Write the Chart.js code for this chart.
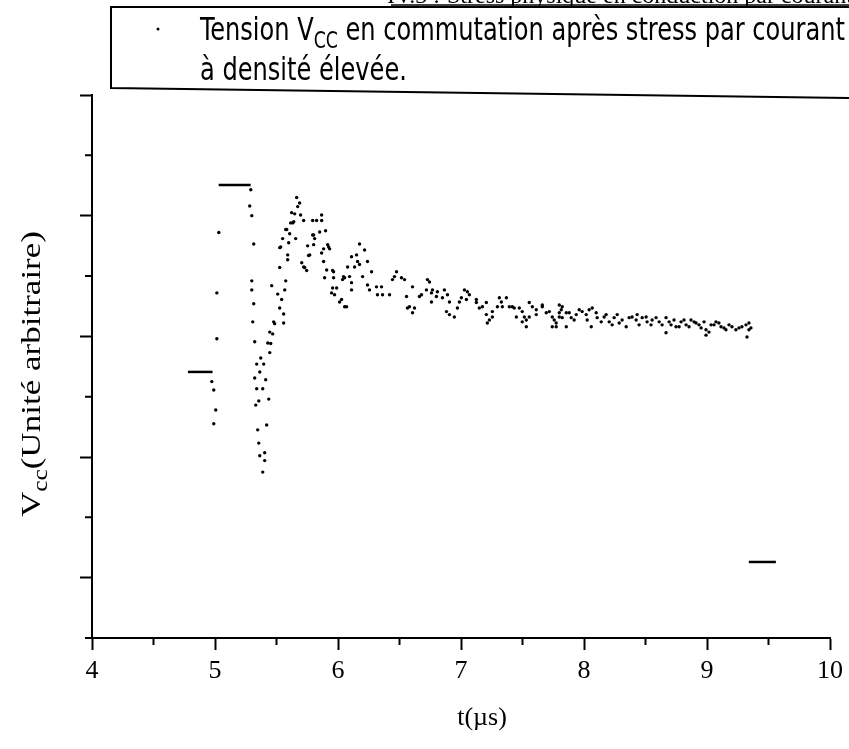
<!DOCTYPE html>
<html>
<head>
<meta charset="utf-8">
<script src="https://cdn.jsdelivr.net/npm/chart.js@4.4.1/dist/chart.umd.min.js"></script>
<style>
    html, body { margin: 0; padding: 0; background: #fff; }
    #wrap { width: 849px; height: 749px; }
</style>
</head>
<body>
<div id="wrap"><canvas id="vccChart" width="849" height="749"></canvas></div>
<script>
// Scope samples: t in µs, Vcc in arbitrary units
const tSamples = [
    4.974, 4.990, 4.990, 5.006, 5.015, 5.015, 5.031,
    5.282, 5.291, 5.299, 5.299, 5.299, 5.307, 5.315, 5.315, 5.323, 5.323, 5.331, 5.339, 5.339, 5.347,
    5.356, 5.356, 5.364, 5.364, 5.372, 5.388, 5.388, 5.396, 5.404, 5.404, 5.412, 5.420, 5.429, 5.437,
    5.445, 5.445, 5.453, 5.461, 5.469, 5.477, 5.485, 5.510, 5.526, 5.526, 5.526, 5.534, 5.542, 5.550,
    5.558, 5.558, 5.567, 5.575, 5.575, 5.583, 5.591, 5.591, 5.599, 5.607, 5.615, 5.623, 5.632, 5.640,
    5.648, 5.656, 5.664, 5.672, 5.688, 5.696, 5.705, 5.721, 5.721, 5.729, 5.745, 5.753, 5.761, 5.770,
    5.794, 5.794, 5.802, 5.802, 5.810, 5.826, 5.851, 5.867, 5.867, 5.867, 5.883, 5.883, 5.891, 5.899,
    5.908, 5.916, 5.924, 5.932, 5.948, 5.956, 5.956, 5.964, 5.964, 5.972, 5.989, 6.013, 6.029, 6.037,
    6.045, 6.054, 6.054, 6.070, 6.078, 6.094, 6.110, 6.110, 6.110, 6.135, 6.151, 6.159, 6.175, 6.175,
    6.200, 6.216, 6.240, 6.240, 6.256, 6.273, 6.313, 6.321, 6.354, 6.362, 6.419, 6.443, 6.459, 6.476,
    6.516, 6.541, 6.557, 6.565, 6.581, 6.606, 6.606, 6.622, 6.662, 6.679, 6.719, 6.727, 6.744, 6.760,
    6.760, 6.768, 6.800, 6.808, 6.849, 6.865, 6.882, 6.890, 6.906, 6.906, 6.946, 6.971, 6.987, 7.003,
    7.028, 7.044, 7.052, 7.068, 7.125, 7.125, 7.149, 7.174, 7.206, 7.206, 7.214, 7.231, 7.255, 7.255,
    7.296, 7.312, 7.328, 7.336, 7.369, 7.393, 7.417, 7.433, 7.450, 7.474, 7.498, 7.498, 7.515, 7.531,
    7.531, 7.555, 7.555, 7.580, 7.612, 7.612, 7.661, 7.661, 7.693, 7.718, 7.742, 7.742, 7.758, 7.774,
    7.774, 7.799, 7.799, 7.799, 7.815, 7.823, 7.823, 7.856, 7.856, 7.880, 7.896, 7.920, 7.937, 7.961,
    7.985, 8.018, 8.026, 8.042, 8.059, 8.067, 8.099, 8.107, 8.140, 8.164, 8.180, 8.205, 8.229, 8.245,
    8.270, 8.286, 8.310, 8.343, 8.367, 8.391, 8.424, 8.432, 8.448, 8.473, 8.505, 8.513, 8.545, 8.554,
    8.586, 8.611, 8.635, 8.667, 8.667, 8.692, 8.708, 8.732, 8.748, 8.773, 8.789, 8.813, 8.830, 8.854,
    8.870, 8.895, 8.911, 8.935, 8.952, 8.976, 8.992, 8.992, 9.016, 9.033, 9.057, 9.073, 9.097, 9.114,
    9.138, 9.154, 9.179, 9.203, 9.235, 9.260, 9.284, 9.317, 9.325, 9.341, 9.341, 9.357
];
const vSamples = [
    4.25, 4.11, 3.55, 3.78, 4.96, 5.72, 6.72,
    7.16, 7.43, 7.00, 5.92, 5.77, 5.24, 6.53, 5.54, 4.91, 4.31, 3.86, 4.54, 4.13, 3.45,
    3.93, 3.23, 3.02, 4.41, 4.64, 2.75, 4.13, 4.54, 2.94, 3.07, 4.28, 3.53, 4.89, 3.96,
    4.73, 5.07, 4.88, 5.84, 5.04, 5.24, 5.21, 5.70, 5.47, 6.14, 6.47, 6.48, 5.61, 6.62,
    5.22, 5.37, 5.77, 5.92, 6.77, 6.77, 6.27, 6.35, 6.55, 6.70, 6.88, 7.05, 6.88, 6.90,
    7.03, 6.62, 7.30, 7.15, 7.21, 7.01, 6.22, 6.92, 6.15, 6.14, 6.09, 6.50, 6.34, 6.35,
    6.92, 6.68, 6.68, 6.52, 6.62, 6.92, 6.73, 6.92, 7.01, 6.38, 6.45, 6.24, 5.97, 6.75,
    6.10, 6.52, 6.48, 6.45, 5.72, 6.09, 5.80, 6.07, 5.97, 5.69, 5.80, 5.57, 5.61, 5.94,
    5.99, 5.49, 5.97, 5.49, 6.15, 5.99, 6.32, 5.89, 5.77, 6.15, 6.35, 6.24, 6.53, 6.19,
    5.99, 6.43, 6.24, 5.85, 5.77, 6.07, 5.82, 5.69, 5.82, 5.69, 5.69, 5.94, 5.99, 6.07,
    5.97, 5.94, 5.66, 5.47, 5.49, 5.82, 5.39, 5.47, 5.66, 5.69, 5.77, 5.94, 5.90, 5.72,
    5.57, 5.77, 5.66, 5.74, 5.64, 5.77, 5.41, 5.69, 5.57, 5.36, 5.32, 5.47, 5.57, 5.64,
    5.77, 5.61, 5.74, 5.69, 5.56, 5.61, 5.47, 5.49, 5.56, 5.36, 5.22, 5.27, 5.41, 5.32,
    5.49, 5.64, 5.57, 5.49, 5.64, 5.49, 5.49, 5.47, 5.32, 5.47, 5.41, 5.24, 5.32, 5.27,
    5.16, 5.32, 5.56, 5.49, 5.44, 5.36, 5.49, 5.52, 5.39, 5.41, 5.32, 5.16, 5.27, 5.22,
    5.16, 5.52, 5.39, 5.32, 5.44, 5.31, 5.49, 5.16, 5.39, 5.39, 5.31, 5.27, 5.36, 5.44,
    5.41, 5.36, 5.27, 5.44, 5.16, 5.47, 5.39, 5.31, 5.24, 5.32, 5.36, 5.24, 5.19, 5.31,
    5.36, 5.22, 5.27, 5.16, 5.31, 5.32, 5.27, 5.36, 5.19, 5.31, 5.32, 5.24, 5.19, 5.27,
    5.31, 5.24, 5.19, 5.31, 5.06, 5.24, 5.19, 5.27, 5.16, 5.16, 5.24, 5.27, 5.19, 5.16,
    5.27, 5.24, 5.22, 5.19, 5.14, 5.24, 5.11, 5.02, 5.07, 5.19, 5.19, 5.24, 5.22, 5.16,
    5.14, 5.11, 5.19, 5.16, 5.11, 5.14, 5.16, 5.19, 4.99, 5.11, 5.22, 5.14
];

// Flat parts of the trace (dense samples, drawn as short lines)
const lowLevelT = [4.78, 4.98];
const lowLevelV = [4.41, 4.41];
const highLevelT = [5.03, 5.29];
const highLevelV = [7.51, 7.51];
const endLevelT = [9.34, 9.56];
const endLevelV = [1.26, 1.26];

// Axis ticks
const xMajorTicks = [4, 5, 6, 7, 8, 9, 10];
const xMinorTicks = [4.5, 5.5, 6.5, 7.5, 8.5, 9.5];
const yMajorTicks = [1, 3, 5, 7, 9];
const yMinorTicks = [0, 2, 4, 6, 8];

const toPoints = (ts, vs) => ts.map((t, i) => ({ x: t, y: vs[i] }));

function drawSubText(ctx, parts, x, y, size, family) {
    // parts: [text, isSub]
    let cx = x;
    parts.forEach(([txt, sub]) => {
        ctx.font = (sub ? size * 0.72 : size) + 'px ' + family;
        ctx.fillText(txt, cx, sub ? y + size * 0.25 : y);
        cx += ctx.measureText(txt).width;
    });
    return cx - x;
}

function measureSubText(ctx, parts, size, family) {
    let w = 0;
    parts.forEach(([txt, sub]) => {
        ctx.font = (sub ? size * 0.72 : size) + 'px ' + family;
        w += ctx.measureText(txt).width;
    });
    return w;
}

const decorations = {
    id: 'decorations',
    afterDraw(chart) {
        const { ctx, scales: { x, y } } = chart;
        ctx.save();
        ctx.fillStyle = '#000';
        ctx.strokeStyle = '#000';

        // minor ticks
        ctx.lineWidth = 2;
        ctx.beginPath();
        xMinorTicks.forEach(v => {
            const px = x.getPixelForValue(v);
            ctx.moveTo(px, x.top);
            ctx.lineTo(px, x.top + 7);
        });
        yMinorTicks.forEach(v => {
            const py = y.getPixelForValue(v);
            ctx.moveTo(y.right, py);
            ctx.lineTo(y.right - 7, py);
        });
        ctx.stroke();

        // clipped caption line at the very top of the scan
        ctx.font = '24px "Liberation Serif"';
        ctx.textBaseline = 'alphabetic';
        ctx.textAlign = 'left';
        ctx.fillText('Stress physique en conduction par courant', 447, 3);
        ctx.textAlign = 'right';
        ctx.fillText('IV.3 :', 440, 3);
        ctx.lineWidth = 1.5;
        ctx.beginPath();
        ctx.moveTo(391, 5);
        ctx.lineTo(849, 5);
        ctx.stroke();

        // legend box
        ctx.lineWidth = 2;
        ctx.beginPath();
        ctx.moveTo(849, 7);
        ctx.lineTo(111, 7);
        ctx.lineTo(111, 88);
        ctx.lineTo(849, 98);
        ctx.stroke();
        ctx.beginPath();
        ctx.arc(158, 29, 1.5, 0, Math.PI * 2);
        ctx.fill();

        // legend text (condensed sans)
        const lf = '"Liberation Sans Narrow", "DejaVu Sans Condensed", sans-serif';
        const line1 = [['Tension V', false], ['CC', true], [' en commutation après stress par courant', false]];
        const w1 = measureSubText(ctx, line1, 32, lf);
        const sx = 645 / w1;
        ctx.textAlign = 'left';
        ctx.save();
        ctx.translate(200, 40);
        ctx.scale(sx, 1);
        drawSubText(ctx, line1, 0, 0, 32, lf);
        ctx.restore();
        ctx.save();
        ctx.translate(200, 80);
        ctx.scale(sx, 1);
        drawSubText(ctx, [['à densité élevée.', false]], 0, 0, 32, lf);
        ctx.restore();

        // y title, rotated and stretched to the scanned length
        const yf = '"Liberation Serif", serif';
        const ytitle = [['V', false], ['cc', true], ['(Unité arbitraire)', false]];
        const wy = measureSubText(ctx, ytitle, 28, yf);
        const sy = 286 / wy;
        ctx.save();
        ctx.translate(40, 374 + 143);
        ctx.rotate(-Math.PI / 2);
        ctx.scale(sy, 1);
        drawSubText(ctx, ytitle, 0, 0, 28, yf);
        ctx.restore();

        // x title
        ctx.font = '26px "Liberation Serif"';
        ctx.textAlign = 'center';
        ctx.textBaseline = 'middle';
        ctx.fillText('t(\u00b5s)', 482, 718);

        ctx.restore();
    }
};

const lineSeg = (ts, vs) => ({
    type: 'line',
    data: toPoints(ts, vs),
    borderColor: '#000',
    borderWidth: 2.5,
    pointRadius: 0,
    showLine: true,
    fill: false
});

new Chart(document.getElementById('vccChart').getContext('2d'), {
    type: 'scatter',
    data: {
        datasets: [
            {
                label: 'Vcc',
                data: toPoints(tSamples, vSamples),
                backgroundColor: '#000',
                borderWidth: 0,
                pointRadius: 1.7
            },
            lineSeg(lowLevelT, lowLevelV),
            lineSeg(highLevelT, highLevelV),
            lineSeg(endLevelT, endLevelV)
        ]
    },
    options: {
        responsive: false,
        animation: false,
        layout: { padding: { top: 95, right: 18, left: 0, bottom: 0 } },
        plugins: {
            legend: { display: false },
            tooltip: { enabled: false }
        },
        scales: {
            x: {
                type: 'linear',
                min: 4,
                max: 10,
                afterBuildTicks: s => { s.ticks = xMajorTicks.map(v => ({ value: v })); },
                afterFit: s => { s.height = 111; },
                border: { display: true, color: '#000', width: 2 },
                grid: { drawOnChartArea: false, drawTicks: true, tickLength: 12, tickWidth: 2, tickColor: '#000' },
                ticks: {
                    color: '#000',
                    font: { family: '"Liberation Serif"', size: 26 },
                    padding: 6,
                    maxRotation: 0,
                    autoSkip: false
                }
            },
            y: {
                type: 'linear',
                min: 0,
                max: 9,
                afterBuildTicks: s => { s.ticks = yMajorTicks.map(v => ({ value: v })); },
                afterFit: s => { s.width = 92; },
                border: { display: true, color: '#000', width: 2 },
                grid: { drawOnChartArea: false, drawTicks: true, tickLength: 12, tickWidth: 2, tickColor: '#000' },
                ticks: { callback: () => '' }
            }
        }
    },
    plugins: [decorations]
});
</script>
</body>
</html>
